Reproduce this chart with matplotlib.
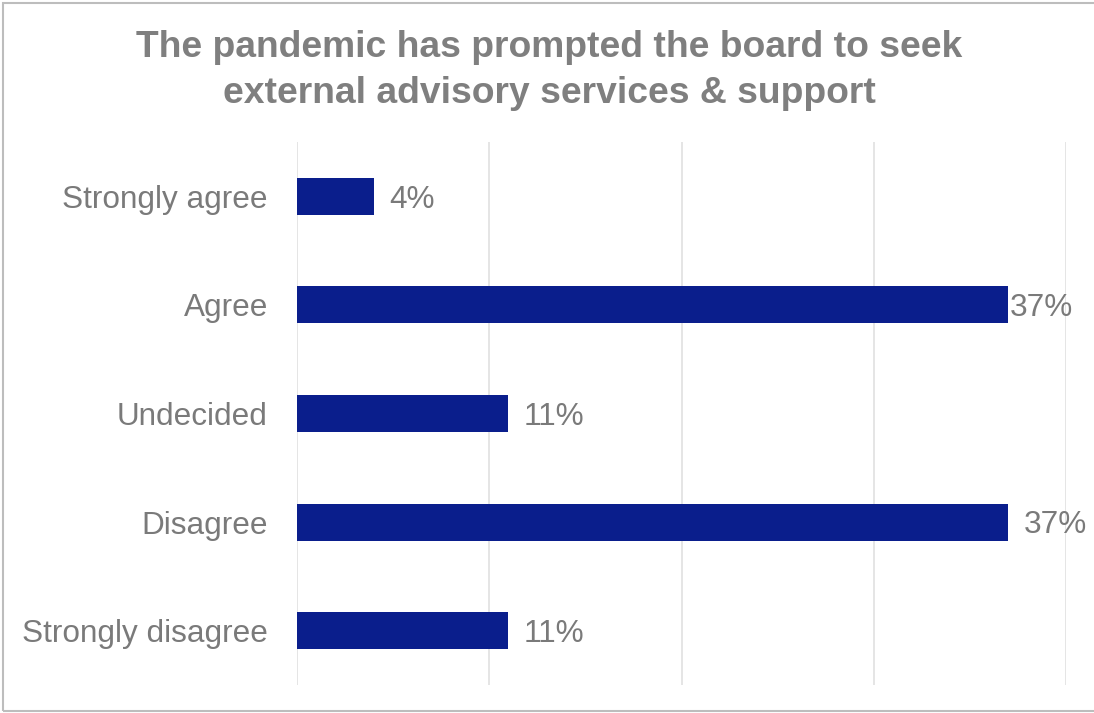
import matplotlib.pyplot as plt
from matplotlib.patches import Rectangle

plt.rcParams["font.family"] = ["Liberation Sans", "DejaVu Sans"]

categories = ["Strongly agree", "Agree", "Undecided", "Disagree", "Strongly disagree"]
shares = [4, 37, 11, 37, 11]
x_ticks = [0, 10, 20, 30, 40]

title = "The pandemic has prompted the board to seek\nexternal advisory services & support"
bar_color = "#0a1e8c"
text_gray = "#7a7a7a"


def main() -> None:
    fig = plt.figure(figsize=(10.94, 7.13), dpi=100)
    ax = fig.add_axes([0.2715, 0.0393, 0.7029, 0.7616])

    positions = list(range(len(categories)))
    ax.barh(positions, shares, height=0.34, color=bar_color, zorder=3)

    # value labels; the second one sits right against its bar end
    for pos, value in zip(positions, shares):
        pad = 0.05 if pos == 1 else 0.8
        ax.text(value + pad, pos + 0.03, f"{value}%", va="center", ha="left",
                fontsize=22.7, color=text_gray, zorder=4)

    ax.set_xlim(0, 40)
    ax.set_ylim(len(categories) - 0.5, -0.5)
    ax.set_xticks(x_ticks)
    ax.set_xticklabels([])
    ax.set_yticks(positions)
    ax.set_yticklabels(categories, fontsize=22.7, color=text_gray)
    ax.tick_params(axis="both", length=0)
    ax.tick_params(axis="y", pad=21)
    ax.grid(axis="x", color="#e3e3e3", linewidth=1.3, zorder=0)
    for spine in ax.spines.values():
        spine.set_visible(False)

    fig.text(0.502, 0.901, title, ha="center", va="center", fontsize=26.8,
             fontweight="bold", color="#7f7f7f", linespacing=1.4)

    # thin frame around the whole chart
    fig.patches.append(Rectangle((0.003, 0.003), 1.2, 0.993, transform=fig.transFigure,
                                 fill=False, edgecolor="#bdbdbd", linewidth=1.5))

    fig.savefig("out.png", dpi=100)


if __name__ == "__main__":
    main()
